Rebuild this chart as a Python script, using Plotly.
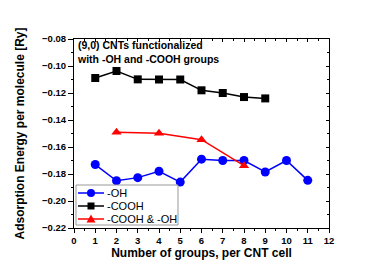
import plotly.graph_objects as go

oh_x = [1, 2, 3, 4, 5, 6, 7, 8, 9, 10, 11]
oh_y = [-0.173, -0.185, -0.1827, -0.178, -0.186, -0.169, -0.170, -0.170, -0.1785, -0.170, -0.1847]
cooh_x = [1, 2, 3, 4, 5, 6, 7, 8, 9]
cooh_y = [-0.1089, -0.1037, -0.1099, -0.110, -0.110, -0.118, -0.120, -0.123, -0.124]
mix_x = [2, 4, 6, 8]
mix_y = [-0.149, -0.1499, -0.1546, -0.1738]

series_names = ["-OH", "-COOH", "-COOH & -OH"]
series_colors = ["#0000FF", "#000000", "#FF0000"]
series_symbols = ["circle", "square", "triangle-up"]

x_range = [0, 12]
y_range = [-0.22, -0.08]

FONT = "Liberation Sans"
W, H = 374, 264
ML, MR, MT, MB = 66, 53, 31, 44
PW, PH = W - ML - MR, H - MT - MB


def px(x):  # pixel x -> paper x
    return (x - ML) / PW


def py(y):  # pixel y -> paper y
    return (H - MB - y) / PH


fig = go.Figure()
data = [(oh_x, oh_y, 9), (cooh_x, cooh_y, 8), (mix_x, mix_y, 9)]
for (xs, ys, ms), name, col, sym in zip(data, series_names, series_colors, series_symbols):
    fig.add_trace(go.Scatter(x=xs, y=ys, mode="lines+markers", name=name,
                             showlegend=False,
                             line=dict(color=col, width=1.5),
                             marker=dict(symbol=sym, size=ms, color=col)))

# compact legend (Origin style), built from shapes + annotations in paper coords
shapes = [dict(type="rect", xref="paper", yref="paper",
               x0=px(68), x1=px(170), y0=py(217), y1=py(177),
               line=dict(color="#999999", width=1), fillcolor="white", layer="above")]
annots = []
entry_y = [185, 198, 211]
for ey, name, col, sym in zip(entry_y, series_names, series_colors, series_symbols):
    shapes.append(dict(type="line", xref="paper", yref="paper",
                       x0=px(70), x1=px(96), y0=py(ey), y1=py(ey),
                       line=dict(color=col, width=1.5), layer="above"))
    cx = 83
    if sym == "circle":
        r = 4
        shapes.append(dict(type="circle", xref="paper", yref="paper",
                           x0=px(cx - r), x1=px(cx + r), y0=py(ey + r), y1=py(ey - r),
                           line=dict(color=col, width=0), fillcolor=col, layer="above"))
    elif sym == "square":
        r = 3.5
        shapes.append(dict(type="rect", xref="paper", yref="paper",
                           x0=px(cx - r), x1=px(cx + r), y0=py(ey + r), y1=py(ey - r),
                           line=dict(color=col, width=0), fillcolor=col, layer="above"))
    else:
        r = 4.5
        path = "M {:.5f},{:.5f} L {:.5f},{:.5f} L {:.5f},{:.5f} Z".format(
            px(cx - r), py(ey + 3.5), px(cx + r), py(ey + 3.5), px(cx), py(ey - 4.5))
        shapes.append(dict(type="path", xref="paper", yref="paper", path=path,
                           line=dict(color=col, width=0), fillcolor=col, layer="above"))
    annots.append(dict(x=px(97), y=py(ey), xref="paper", yref="paper",
                       xanchor="left", yanchor="middle", showarrow=False,
                       text=name, font=dict(family=FONT, size=11, color="black")))

annots.append(dict(x=px(67), y=py(29), xref="paper", yref="paper",
                   xanchor="left", yanchor="top", align="left", showarrow=False,
                   text="<b>(9,0) CNTs functionalized<br>with -OH and -COOH groups</b>",
                   font=dict(family=FONT, size=10.5, color="black")))

common = dict(showgrid=False, zeroline=False, showline=True, linecolor="black",
              linewidth=1, tickcolor="black")

fig.update_layout(
    width=W, height=H,
    margin=dict(l=ML, r=MR, t=MT, b=MB),
    paper_bgcolor="white", plot_bgcolor="white",
    font=dict(family=FONT, color="black"),
    showlegend=False,
    xaxis=dict(range=x_range, tickmode="linear", dtick=1, tick0=0,
               ticks="outside", ticklen=4,
               minor=dict(dtick=0.5, ticks="outside", ticklen=2, tickcolor="black"),
               tickfont=dict(family=FONT, size=9.5, color="black"),
               tickprefix="<b>", ticksuffix="</b>",
               title=dict(text="<b>Number of groups, per CNT cell</b>",
                          font=dict(family=FONT, size=12, color="black"), standoff=0),
               **common),
    yaxis=dict(range=y_range, tickmode="linear", dtick=0.02, tick0=-0.22,
               tickformat=".2f", ticks="outside", ticklen=5,
               minor=dict(dtick=0.01, ticks="outside", ticklen=2, tickcolor="black"),
               tickfont=dict(family=FONT, size=9.5, color="black"),
               tickprefix="<b>", ticksuffix="</b>",
               title=dict(text="<b>Adsorption Energy per molecule [Ry]</b>",
                          font=dict(family=FONT, size=12, color="black"), standoff=14),
               **common),
    xaxis2=dict(range=x_range, overlaying="x", side="top", anchor="y",
                tickmode="linear", dtick=1, tick0=0, ticks="inside", ticklen=3,
                showticklabels=False,
                minor=dict(dtick=0.5, ticks="inside", ticklen=2, tickcolor="black"),
                **common),
    yaxis2=dict(range=y_range, overlaying="y", side="right", anchor="x",
                tickmode="linear", dtick=0.02, tick0=-0.22, ticks="inside", ticklen=3,
                showticklabels=False,
                minor=dict(dtick=0.01, ticks="inside", ticklen=2, tickcolor="black"),
                **common),
    shapes=shapes,
    annotations=annots,
)
# invisible carrier trace so the mirrored top/right axes are drawn
fig.add_trace(go.Scatter(x=[None], y=[None], xaxis="x2", yaxis="y2",
                         showlegend=False, hoverinfo="skip"))

fig.write_html("out.html")
